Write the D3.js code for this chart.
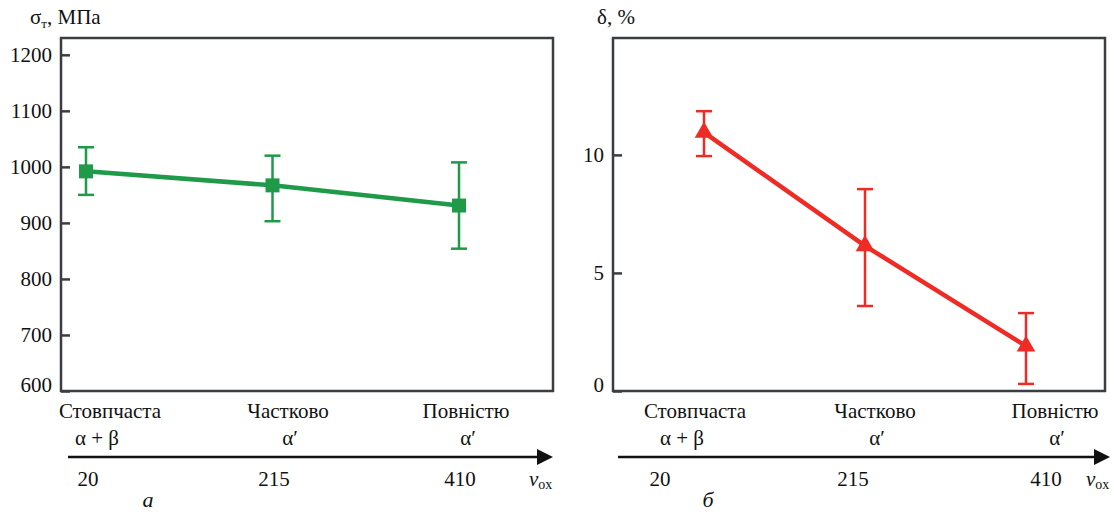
<!DOCTYPE html>
<html>
<head>
<meta charset="utf-8">
<script src="https://cdn.jsdelivr.net/npm/d3@7"></script>
<style>
  body { margin: 0; background: #fff; }
</style>
</head>
<body>
<div id="chart"></div>
<script>
// data
var speeds = [20, 215, 410];
var structures = ["Стовпчаста", "Частково", "Повністю"];
var phases = ["α + β", "α′", "α′"];

var strength = [992, 967, 931];
var strengthLow = [950, 903, 854];
var strengthHigh = [1035, 1020, 1008];
var strengthTicks = [600, 700, 800, 900, 1000, 1100, 1200];

var elong = [10.95, 6.15, 1.9];
var elongLow = [9.95, 3.6, 0.3];
var elongHigh = [11.85, 8.55, 3.3];
var elongTicks = [0, 5, 10];

var width = 1114, height = 514;
var plotTop = 38, plotBottom = 391;
var fs = "21px";

var svg = d3.select("#chart").append("svg")
    .attr("width", width)
    .attr("height", height)
    .attr("font-family", "'Liberation Serif', 'Times New Roman', 'DejaVu Serif', serif")
    .attr("fill", "#111");

// each panel: box, y domain, x ranges for points and labels
var panels = [
    { box: [61, 553], y: [600, 1230], pts: [86, 459], lbl: [110, 466], num: [88, 460],
      arrow: [68, 553], vals: strength, lo: strengthLow, hi: strengthHigh, ticks: strengthTicks,
      color: "#1f9a48", marker: "square", title: "σ", sub: "т", unit: ", МПа", titleX: 30, letter: "а", letterX: 148 },
    { box: [613, 1105], y: [0, 14.95], pts: [704, 1026], lbl: [695, 1055], num: [660, 1046],
      arrow: [618, 1110], vals: elong, lo: elongLow, hi: elongHigh, ticks: elongTicks,
      color: "#ee2b25", marker: "triangle", title: "δ", sub: "", unit: ", %", titleX: 597, letter: "б", letterX: 708 }
];

panels.forEach(function (p) {

    var g = svg.append("g");

    var x = d3.scaleLinear().domain([20, 410]).range(p.pts);
    var xl = d3.scaleLinear().domain([20, 410]).range(p.lbl);
    var xn = d3.scaleLinear().domain([20, 410]).range(p.num);
    var y = d3.scaleLinear().domain(p.y).range([plotBottom, plotTop]);

    // frame
    g.append("rect")
        .attr("x", p.box[0]).attr("y", plotTop)
        .attr("width", p.box[1] - p.box[0]).attr("height", plotBottom - plotTop)
        .attr("fill", "none")
        .attr("stroke", "#3b3e40")
        .attr("stroke-width", 2.5);

    // y axis, ticks pointing inward
    var yAxis = d3.axisRight(y).tickValues(p.ticks).tickSize(9).tickFormat("");
    var ax = g.append("g")
        .attr("transform", "translate(" + p.box[0] + ",0)")
        .call(yAxis);
    ax.select(".domain").remove();
    ax.selectAll("line").attr("stroke", "#3b3e40").attr("stroke-width", 2.5);

    g.selectAll(".ylab")
        .data(p.ticks)
        .enter().append("text")
        .attr("x", p.box[0] - 9)
        .attr("y", function (d) { return Math.min(y(d), plotBottom - 6); })
        .attr("dy", "0.35em")
        .attr("text-anchor", "end")
        .style("font-size", fs)
        .text(function (d) { return d; });

    // axis title
    var t = g.append("text")
        .attr("x", p.titleX).attr("y", 24)
        .style("font-size", fs);
    t.append("tspan").text(p.title);
    if (p.sub) t.append("tspan").attr("dy", 4).style("font-size", "13px").text(p.sub);
    t.append("tspan").attr("dy", p.sub ? -4 : 0).text(p.unit);

    // error bars
    var eb = g.selectAll(".err")
        .data(speeds)
        .enter().append("g")
        .attr("stroke", p.color)
        .attr("stroke-width", 2.5);
    eb.append("line")
        .attr("x1", function (d) { return x(d); }).attr("x2", function (d) { return x(d); })
        .attr("y1", function (d, i) { return y(p.lo[i]); })
        .attr("y2", function (d, i) { return y(p.hi[i]); });
    eb.append("line")
        .attr("x1", function (d) { return x(d) - 8; }).attr("x2", function (d) { return x(d) + 8; })
        .attr("y1", function (d, i) { return y(p.lo[i]); })
        .attr("y2", function (d, i) { return y(p.lo[i]); });
    eb.append("line")
        .attr("x1", function (d) { return x(d) - 8; }).attr("x2", function (d) { return x(d) + 8; })
        .attr("y1", function (d, i) { return y(p.hi[i]); })
        .attr("y2", function (d, i) { return y(p.hi[i]); });

    // line
    var line = d3.line()
        .x(function (d, i) { return x(speeds[i]); })
        .y(function (d) { return y(d); });
    g.append("path")
        .datum(p.vals)
        .attr("d", line)
        .attr("fill", "none")
        .attr("stroke", p.color)
        .attr("stroke-width", 4.5);

    // markers
    var sym = p.marker === "square"
        ? d3.symbol().type(d3.symbolSquare).size(196)
        : d3.symbol().type(d3.symbolTriangle).size(150);
    g.selectAll(".mk")
        .data(p.vals)
        .enter().append("path")
        .attr("d", sym)
        .attr("transform", function (d, i) { return "translate(" + x(speeds[i]) + "," + y(d) + ")"; })
        .attr("fill", p.color);

    // category labels
    g.selectAll(".cat")
        .data(structures)
        .enter().append("text")
        .attr("x", function (d, i) { return xl(speeds[i]); })
        .attr("y", 418)
        .attr("text-anchor", "middle")
        .style("font-size", fs)
        .text(function (d) { return d; });
    g.selectAll(".ph")
        .data(phases)
        .enter().append("text")
        .attr("x", function (d, i) { return xl(speeds[i]) + (i === 0 ? -13 : 2); })
        .attr("y", 445)
        .attr("text-anchor", "middle")
        .style("font-size", fs)
        .text(function (d) { return d; });

    // speed arrow
    g.append("line")
        .attr("x1", p.arrow[0]).attr("x2", p.arrow[1] - 12)
        .attr("y1", 457).attr("y2", 457)
        .attr("stroke", "#111").attr("stroke-width", 2.5);
    g.append("path")
        .attr("d", "M" + p.arrow[1] + ",457 L" + (p.arrow[1] - 16) + ",449 L" + (p.arrow[1] - 16) + ",465 Z")
        .attr("fill", "#111");

    g.selectAll(".num")
        .data(speeds)
        .enter().append("text")
        .attr("x", function (d) { return xn(d); })
        .attr("y", 486)
        .attr("text-anchor", "middle")
        .style("font-size", fs)
        .text(function (d) { return d; });

    var v = g.append("text")
        .attr("x", p.arrow[1] - 24).attr("y", 486)
        .style("font-size", fs);
    v.append("tspan").style("font-style", "italic").text("v");
    v.append("tspan").attr("dy", 3).style("font-size", "14px").text("ox");

    g.append("text")
        .attr("x", p.letterX).attr("y", 507)
        .attr("text-anchor", "middle")
        .style("font-size", "22px")
        .style("font-style", "italic")
        .text(p.letter);
});
</script>
</body>
</html>
